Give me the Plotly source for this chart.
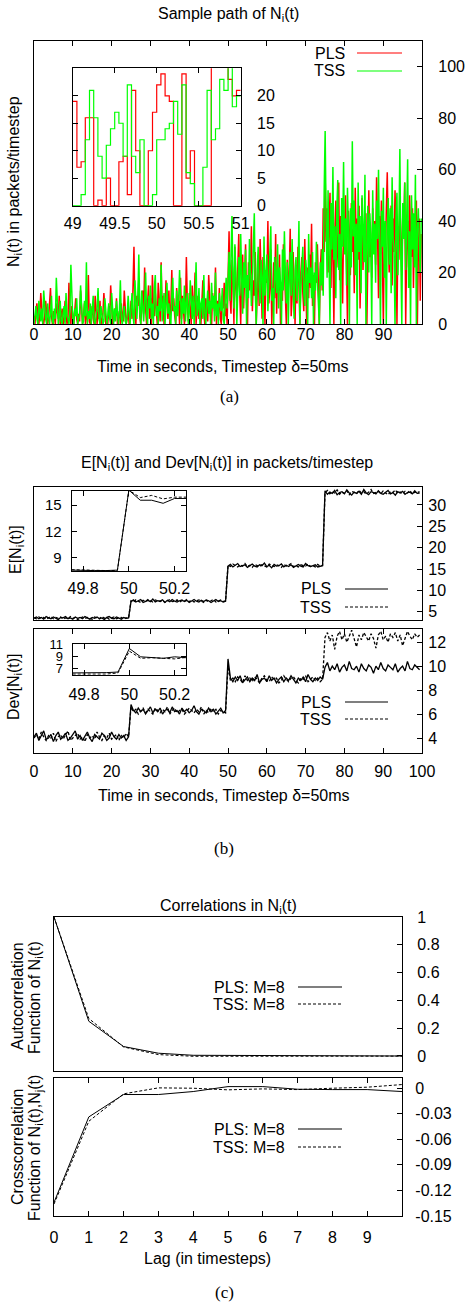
import numpy as np
import plotly.graph_objects as go

W, H = 466, 1303
FONT = "Liberation Sans, Arial, Helvetica, sans-serif"
SERIF = "Liberation Serif, Times New Roman, serif"
RED = "#ff0000"
GREEN = "#00ff00"

# ---------------- (a) sample path, 0.25 s sampling per 25 s segment ----------------
pls_seg1 = [3,0,5,8,2,0,4,12,6,1,0,3,9,4,0,2,7,14,3,0,5,1,0,8,4,2,11,0,3,6,0,1,9,5,0,2,16,4,0,7,
            3,0,5,10,2,0,4,1,13,6,0,3,8,0,2,5,19,1,0,4,7,2,0,11,3,0,6,2,9,0,1,4,12,5,0,3,0,7,2,15,
            4,0,1,6,3,10,0,2,5,0,8,3,1,13,4,0,2,6,0,3]
tss_seg1 = [0,4,7,2,0,9,3,1,6,0,13,5,2,0,8,3,0,4,11,1,0,6,2,18,5,0,3,9,1,0,4,7,0,12,3,2,0,5,23,8,
            1,0,6,3,10,0,2,4,15,7,0,1,9,3,24,0,5,2,8,0,4,11,1,0,3,6,14,2,0,7,4,0,1,10,5,0,3,8,2,0,
            12,4,0,6,1,9,3,0,5,17,2,0,4,7,1,0,3,11,5,0]
pls_seg2 = [9,2,14,30,5,0,11,7,18,3,0,9,13,4,22,6,0,8,15,2,10,0,19,7,3,12,5,0,16,9,1,24,6,11,0,4,17,8,2,13,
            0,7,21,5,10,3,0,14,6,9,0,18,2,11,7,0,4,26,8,1,12,5,0,15,3,9,20,0,6,11,2,8,0,13,17,4,0,10,6,1,
            19,7,3,0,12,8,5,22,0,9,4,14,2,0,11,6,16,3,8,0]
tss_seg2 = [6,12,3,0,17,8,2,10,27,5,0,13,7,1,9,20,4,0,11,6,15,2,8,0,14,19,3,7,0,10,5,23,1,9,12,0,6,16,4,8,
            2,0,11,18,5,7,0,13,3,9,21,6,0,10,4,15,1,8,12,0,5,17,7,2,11,0,9,24,3,6,14,0,8,10,2,19,5,0,7,13,
            4,9,0,16,6,11,1,20,3,8,0,12,7,5,14,2,0,10,18,6]
pls_seg3 = [21,36,10,4,25,18,0,30,14,8,22,35,12,0,19,27,6,16,31,9,0,24,13,20,38,5,17,11,28,0,15,23,7,33,19,2,26,12,0,21,
            16,40,8,14,29,0,18,24,10,35,4,20,13,27,0,16,9,31,22,6,0,25,14,19,37,3,11,28,17,0,23,8,30,15,0,20,26,12,5,33,
            18,0,22,10,27,14,39,7,19,0,24,16,31,11,0,21,29,13,45,28]
tss_seg3 = [15,28,9,22,42,17,6,31,20,0,13,26,11,35,18,4,24,14,29,0,19,10,33,23,7,16,27,43,12,0,21,30,15,8,25,18,0,34,11,20,
            27,5,17,23,38,9,14,0,26,19,12,31,6,22,16,0,29,13,36,20,8,24,0,17,28,11,33,15,2,21,26,9,18,40,0,14,23,30,12,7,
            25,19,0,35,16,22,10,28,0,20,13,32,17,6,0,24,15,29,11,52]
pls_seg4 = [58,32,45,20,38,51,14,40,27,0,36,48,22,31,55,17,42,29,8,39,33,50,24,0,44,35,19,47,28,37,12,53,30,41,25,46,6,34,49,21,
            38,29,43,0,36,52,26,33,18,45,31,40,23,57,35,10,42,27,48,30,0,39,24,44,59,33,20,37,46,15,41,28,52,34,0,38,25,47,32,19,
            43,36,55,0,29,40,22,50,35,26,45,14,38,31,48,0,27,41,9,35]
tss_seg4 = [75,40,18,52,33,0,47,29,61,25,38,10,44,56,21,35,0,49,30,63,27,41,15,53,36,0,45,22,71,34,48,19,39,0,55,28,42,12,50,37,
            24,58,0,31,46,20,43,35,0,52,27,39,16,48,33,60,25,0,44,30,53,18,40,0,36,49,23,45,12,57,34,28,0,42,51,19,38,68,26,0,
            47,33,55,21,40,64,14,36,0,50,29,43,22,58,0,37,45,31,20,41]

# (a) inset: 49 s .. 51 s, one value per 50 ms timestep
zoom_start = 49.0
pls_zoom = [19,7,8,16,16,0,1,0,5,0,0,8,9,2,21,10,0,0,10,17,22,24,20,19,0,0,24,5,10,0,0,0,0,28,28,28,28,23,20,21]
tss_zoom = [0,0,2,12,21,16,9,5,11,14,17,15,9,22,9,6,12,0,0,2,12,12,14,15,19,13,22,6,4,0,0,7,21,12,14,23,21,26,18,20]

# ---------------- (b) E[N] and Dev[N] ----------------
e_pls = [
    [3.5,3.8,3.4,3.7,3.3,3.9,3.6,3.4,3.8,3.5,3.2,3.7,3.6,3.9,3.4,3.6,3.3,3.8,3.5,3.7,3.4,3.9,3.6,3.3,3.7,3.5,3.8,3.4,3.6,3.2,3.7,3.9,3.5,3.4,3.8,3.6,3.3,3.7,3.5,3.6],
    [7.4,7.8,7.3,7.6,7.9,7.2,7.5,7.7,7.4,8.0,7.3,7.6,7.5,7.8,7.2,7.7,7.4,7.9,7.5,7.3,7.6,7.8,7.4,7.7,7.2,7.6,7.9,7.5,7.3,7.7,7.4,7.8,7.6,7.2,7.5,7.9,7.4,7.6,7.3,7.5],
    [15.7,16.1,15.5,15.9,16.3,15.6,15.8,16.0,15.4,15.9,16.2,15.7,15.5,16.0,15.8,16.4,15.6,15.9,15.3,16.1,15.7,15.8,16.2,15.5,15.9,15.6,16.0,15.4,15.8,16.1,15.7,15.5,16.3,15.8,15.6,15.9,16.0,15.5,15.7,15.8],
    [33.3,32.5,33.0,32.7,33.4,32.4,32.9,33.1,32.6,33.5,32.8,32.3,33.0,32.7,33.2,32.5,33.6,32.8,32.4,33.1,32.9,32.6,33.3,32.7,32.5,33.0,33.4,32.6,32.9,32.3,33.1,32.8,33.2,32.5,32.9,33.0,32.6,33.3,32.7,32.8],
]
e_tss = [
    [3.6,3.4,3.8,3.5,3.7,3.3,3.6,3.9,3.4,3.7,3.5,3.8,3.3,3.6,3.4,3.9,3.5,3.7,3.2,3.6,3.8,3.4,3.7,3.5,3.3,3.8,3.6,3.4,3.9,3.5,3.7,3.3,3.6,3.8,3.4,3.5,3.7,3.3,3.6,3.5],
    [7.6,7.3,7.8,7.5,7.2,7.7,7.4,7.9,7.6,7.3,7.8,7.5,7.4,7.7,7.2,7.6,7.9,7.4,7.5,7.8,7.3,7.6,7.5,7.9,7.4,7.7,7.3,7.6,7.8,7.5,7.2,7.7,7.4,7.6,7.9,7.3,7.5,7.8,7.4,7.6],
    [15.9,15.6,16.2,15.8,15.5,16.0,15.7,16.3,15.6,15.9,15.4,16.1,15.8,15.6,16.0,15.7,15.5,16.2,15.9,15.6,16.0,15.8,15.4,16.1,15.7,15.9,16.3,15.6,15.8,15.5,16.0,15.9,15.7,16.2,15.6,15.8,15.5,16.1,15.7,15.9],
    [32.9,33.4,32.6,33.1,32.8,33.5,32.5,33.0,32.7,33.3,32.4,33.2,32.9,32.6,33.4,32.8,33.1,32.5,33.0,33.6,32.7,32.9,33.2,32.6,33.3,32.8,32.4,33.1,32.9,33.5,32.7,33.0,32.6,33.2,32.8,33.4,32.5,33.0,32.9,33.1],
]
dev_pls = [
    [4.1,4.4,3.8,4.2,4.6,3.9,4.0,4.3,3.7,4.2,4.5,3.9,4.1,4.4,3.8,4.0,4.3,4.6,3.9,4.2,3.8,4.1,4.5,4.0,3.7,4.3,4.1,3.9,4.4,4.2,3.8,4.0,4.5,4.1,3.9,4.3,4.0,4.2,3.8,4.1],
    [6.8,6.3,6.1,6.5,6.2,6.4,6.0,6.3,6.6,6.1,6.4,6.2,6.5,6.0,6.3,6.4,6.1,6.6,6.2,6.3,6.0,6.5,6.2,6.4,6.1,6.3,6.7,6.2,6.0,6.4,6.3,6.1,6.5,6.2,6.4,6.0,6.3,6.5,6.1,6.3],
    [10.6,9.0,8.7,9.1,8.8,9.2,8.6,8.9,9.1,8.7,9.0,8.8,9.3,8.6,8.9,9.0,8.7,9.2,8.8,9.0,8.6,8.9,9.1,8.7,9.0,8.8,9.2,8.9,8.6,9.0,8.8,9.1,8.7,9.3,8.9,8.7,9.0,8.8,9.1,8.9],
    [9.9,10.3,9.6,10.0,9.7,10.2,9.5,9.9,10.1,9.6,10.4,9.8,9.7,10.0,9.5,10.2,9.8,9.6,10.1,9.9,9.4,10.0,9.7,10.3,9.8,9.6,10.1,9.9,9.7,10.2,9.5,9.8,10.0,9.6,10.4,9.8,9.7,10.1,9.9,9.7],
]
dev_tss = [
    [4.0,4.3,3.9,4.5,4.1,3.8,4.2,4.0,4.4,3.7,4.1,4.3,3.9,4.2,4.6,3.8,4.0,4.2,4.4,3.9,4.1,3.7,4.3,4.0,4.2,3.9,4.5,4.1,3.8,4.2,4.0,4.4,3.9,4.1,4.3,3.8,4.2,4.0,4.4,4.1],
    [6.6,6.2,6.4,6.0,6.3,6.5,6.1,6.4,6.2,6.0,6.5,6.3,6.1,6.4,6.2,6.6,6.0,6.3,6.5,6.1,6.3,6.4,6.0,6.2,6.5,6.3,6.1,6.4,6.2,6.6,6.0,6.3,6.1,6.5,6.2,6.4,6.0,6.3,6.2,6.1],
    [10.0,8.8,9.0,8.7,9.1,8.9,8.6,9.2,8.8,9.0,8.7,9.1,8.9,8.6,9.0,9.2,8.8,8.7,9.1,8.9,9.0,8.6,8.8,9.2,8.9,8.7,9.0,9.1,8.8,8.6,9.0,8.9,9.2,8.7,8.9,9.1,8.8,9.0,8.7,8.9],
    [12.4,12.8,12.1,12.6,11.4,12.5,12.9,12.2,12.7,12.0,12.5,13.0,12.3,11.6,12.6,12.2,12.8,12.4,12.1,12.7,12.3,11.5,12.6,12.9,12.2,12.5,12.0,12.7,12.4,12.8,12.1,12.6,11.7,12.3,12.9,12.5,12.2,12.7,12.4,12.6],
]
# (b) insets: 49.75 s .. 50.25 s, 50 ms timesteps
binset_start = 49.75
e_pls_zoom = [7.6,7.55,7.55,7.55,7.6,16.7,15.55,15.55,15.2,15.75,15.75]
e_tss_zoom = [7.65,7.6,7.55,7.55,7.55,16.7,15.85,16.1,15.7,15.9,15.9]
dev_pls_zoom = [6.2,6.2,6.3,6.25,6.35,10.3,8.9,8.8,8.65,8.9,8.75]
dev_tss_zoom = [6.0,6.0,5.95,6.0,6.2,9.85,8.65,8.75,8.65,8.55,8.8]

# ---------------- (c) correlations ----------------
lags = list(range(11))
auto_pls = [1.0,0.25,0.068,0.02,0.005,0.004,0.003,0.002,0.002,0.002,0.0]
auto_tss = [1.0,0.27,0.065,0.01,-0.002,-0.002,-0.001,-0.001,-0.001,-0.001,-0.001]
cross_pls = [-0.134,-0.0337,-0.0074,-0.0074,-0.0039,0.0019,0.0019,-0.0012,-0.0016,-0.0016,-0.0039]
cross_tss = [-0.136,-0.0388,-0.0066,0.0004,0.0,-0.0019,-0.0008,-0.0016,0.0,0.0012,0.0043]

# ---------------- helpers ----------------
def X(p):
    return p / W

def Y(p):
    return 1 - p / H

def seg_series(segs, T=25.0):
    t, v = [], []
    for k, s in enumerate(segs):
        n = len(s)
        t.extend((k * T + T * np.arange(n) / n).tolist())
        v.extend(s)
    return t, v

def steps(start, vals, dt):
    t = (start + dt * np.arange(len(vals) + 1)).tolist()
    return t, list(vals) + [vals[-1]]

fig = go.Figure()

def line(x, y, ax, color="black", width=1.0, dash="solid", shape="linear"):
    fig.add_trace(go.Scatter(x=x, y=y, mode="lines", xaxis="x" + ax, yaxis="y" + ax,
                             line=dict(color=color, width=width, dash=dash, shape=shape),
                             showlegend=False, hoverinfo="skip"))

# (a)
t, v = seg_series([pls_seg1, pls_seg2, pls_seg3, pls_seg4]); line(t, v, "", RED, 1.5)
t, v = seg_series([tss_seg1, tss_seg2, tss_seg3, tss_seg4]); line(t, v, "", GREEN, 1.5)
t, v = steps(zoom_start, pls_zoom, 0.05); line(t, v, "2", RED, 1.2, shape="hv")
t, v = steps(zoom_start, tss_zoom, 0.05); line(t, v, "2", GREEN, 1.2, shape="hv")
# (b)
t, v = seg_series(e_pls); line(t, v, "3", "black", 1.3)
t, v = seg_series(e_tss); line(t, v, "3", "black", 1.3, "3px,2px")
ti = (binset_start + 0.05 * np.arange(len(e_pls_zoom))).tolist()
line(ti, e_pls_zoom, "4", "black", 1.0)
line(ti, e_tss_zoom, "4", "black", 1.0, "3px,2px")
t, v = seg_series(dev_pls); line(t, v, "5", "black", 1.3)
t, v = seg_series(dev_tss); line(t, v, "5", "black", 1.3, "3px,2px")
line(ti, dev_pls_zoom, "6", "black", 1.0)
line(ti, dev_tss_zoom, "6", "black", 1.0, "3px,2px")
# (c)
line(lags, auto_pls, "7", "black", 1.0)
line(lags, auto_tss, "7", "black", 1.0, "3px,2px")
line(lags, cross_pls, "8", "black", 1.0)
line(lags, cross_tss, "8", "black", 1.0, "3px,2px")

TICKFONT = dict(family=FONT, size=16, color="black")
BASE = dict(showline=True, linecolor="black", linewidth=1.2, showgrid=False, zeroline=False,
            ticks="inside", ticklen=5, tickcolor="black", tickwidth=1, tickfont=TICKFONT)

def xax(dom, rng, anchor, tickvals=None, ticktext=None, labels=True, ticks=True, standoff=0):
    d = dict(BASE, domain=[X(dom[0]), X(dom[1])], range=rng, anchor=anchor,
             mirror="ticks" if ticks else True, showticklabels=labels, ticklabelstandoff=standoff)
    if not ticks:
        d["ticks"] = ""
    if tickvals is not None:
        d["tickmode"] = "array"; d["tickvals"] = tickvals
        if ticktext is not None:
            d["ticktext"] = ticktext
    return d

def yax(dom, rng, anchor, tickvals, ticktext=None, side="right", mirror=True, standoff=0, size=16):
    d = dict(BASE, domain=[Y(dom[1]), Y(dom[0])], range=rng, anchor=anchor, side=side,
             mirror=mirror, tickmode="array", tickvals=tickvals, ticklabelstandoff=standoff,
             tickfont=dict(family=FONT, size=size, color="black"))
    if ticktext is not None:
        d["ticktext"] = ticktext
    return d

A_RNG = [0, 99.95]
A_YR = [0, 110]
AI_X = [49, 51]; AI_Y = [0, 25]
B_X = [0, 100]
E_YR = [3.1, 34.2]
BI_X = [49.75, 50.25]
EI_Y = [7.5, 16.6]
D_YR = [2.75, 13.1]
DI_Y = [5.9, 11.1]
C_X = [0, 10]
AU_Y = [-0.108, 1.0]
CR_Y = [-0.15, 0.012]

layout = dict(
    width=W, height=H, margin=dict(l=0, r=0, t=0, b=0, autoexpand=False),
    paper_bgcolor="white", plot_bgcolor="white", showlegend=False,
    xaxis=xax([34, 422], A_RNG, "y", list(range(0, 100, 10)), standoff=-4),
    yaxis=yax([41, 324], A_YR, "x", list(range(0, 101, 20)), standoff=12),
    xaxis2=xax([72.7, 240.7], AI_X, "y2", [49, 49.5, 50, 50.5, 51], ["49", "49.5", "50", "50.5", "51"], standoff=3),
    yaxis2=yax([68.3, 205.7], AI_Y, "x2", [0, 5, 10, 15, 20], mirror="ticks", standoff=12),
    xaxis3=xax([34, 422], B_X, "y3", labels=False, ticks=False),
    yaxis3=yax([487, 620], E_YR, "x3", [5, 10, 15, 20, 25, 30], standoff=2),
    xaxis4=xax([71.7, 186], BI_X, "y4", [49.8, 50, 50.2], ["49.8", "50", "50.2"], standoff=3),
    yaxis4=yax([491, 571], EI_Y, "x4", [9.0, 12.0, 15.0], ["9", "12", "15"], side="left", mirror="ticks",
               standoff=6, size=15),
    xaxis5=xax([34, 422], B_X, "y5", list(range(0, 101, 10)), standoff=4),
    yaxis5=yax([629, 753], D_YR, "x5", [4, 6, 8, 10, 12], standoff=2),
    xaxis6=xax([72.7, 186], BI_X, "y6", [49.8, 50, 50.2], ["49.8", "50", "50.2"], standoff=5),
    yaxis6=yax([643.7, 674.7], DI_Y, "x6", [7, 9, 11], side="left", mirror="ticks", standoff=6, size=13),
    xaxis7=xax([54, 402], C_X, "y7", labels=False, ticks=False),
    yaxis7=yax([917, 1071], AU_Y, "x7", [0, 0.2, 0.4, 0.6, 0.8, 1.0], ["0", "0.2", "0.4", "0.6", "0.8", "1"], standoff=11),
    xaxis8=xax([54, 402], C_X, "y8", list(range(0, 10)), standoff=7),
    yaxis8=yax([1078, 1216], CR_Y, "x8", [0, -0.03, -0.06, -0.09, -0.12, -0.15],
               ["0", "-0.03", "-0.06", "-0.09", "-0.12", "-0.15"], standoff=9),
)
fig.update_layout(**layout)

# white backgrounds behind the insets (drawn in the inset subplot layer)
for ax, xr, yr in [("2", AI_X, AI_Y), ("4", BI_X, EI_Y), ("6", BI_X, DI_Y)]:
    fig.add_shape(type="rect", xref="x" + ax, yref="y" + ax, x0=xr[0], x1=xr[1], y0=yr[0], y1=yr[1],
                  fillcolor="white", line=dict(width=0), layer="below")

def text(s, x, y, size=16, anchor="center", angle=0, family=FONT):
    fig.add_annotation(text=s, x=X(x), y=Y(y), xref="paper", yref="paper", showarrow=False,
                       xanchor=anchor, yanchor="middle", textangle=angle,
                       font=dict(family=family, size=size, color="black"))

def key(x0, x1, y, color="black", dash="solid"):
    fig.add_shape(type="line", xref="paper", yref="paper", x0=X(x0), x1=X(x1), y0=Y(y), y1=Y(y),
                  line=dict(color=color, width=1.2, dash=dash))

# titles & labels
text("Sample path of N<sub>i</sub>(t)", 228, 15)
text("N<sub>i</sub>(t) in packets/timestep", 14, 182, angle=-90)
text("Time in seconds, Timestep δ=50ms", 223, 367)
text("(a)", 229, 396, size=17, family=SERIF)

text("E[N<sub>i</sub>(t)] and Dev[N<sub>i</sub>(t)] in packets/timestep", 227, 463)
text("E[N<sub>i</sub>(t)]", 16, 550, angle=-90)
text("Dev[N<sub>i</sub>(t)]", 14, 687, angle=-90)
text("Time in seconds, Timestep δ=50ms", 224, 795)
text("(b)", 224, 848, size=17, family=SERIF)

text("Correlations in N<sub>i</sub>(t)", 228, 906)
text("Autocorrelation", 17, 996, angle=-90)
text("Function of N<sub>i</sub>(t)", 35, 998, angle=-90)
text("Crosscorrelation", 17, 1147, angle=-90)
text("Function of N<sub>i</sub>(t),N<sub>j</sub>(t)", 35, 1148, angle=-90)
text("Lag (in timesteps)", 207, 1258)
text("(c)", 224, 1292, size=17, family=SERIF)

# legends
text("PLS", 347, 53, anchor="right"); key(357, 402, 53, RED)
text("TSS", 347, 71, anchor="right"); key(357, 402, 71, GREEN)
text("PLS", 333, 589, anchor="right"); key(345, 388, 589)
text("TSS", 333, 607, anchor="right"); key(345, 388, 607, dash="3px,2px")
text("PLS", 333, 702, anchor="right"); key(345, 388, 702)
text("TSS", 333, 719, anchor="right"); key(345, 388, 719, dash="3px,2px")
text("PLS: M=8", 287, 987, anchor="right"); key(298, 342, 987)
text("TSS: M=8", 287, 1004, anchor="right"); key(298, 342, 1004, dash="3px,2px")
text("PLS: M=8", 287, 1129, anchor="right"); key(298, 342, 1129)
text("TSS: M=8", 287, 1147, anchor="right"); key(298, 342, 1147, dash="3px,2px")

fig.write_html("out.html")
